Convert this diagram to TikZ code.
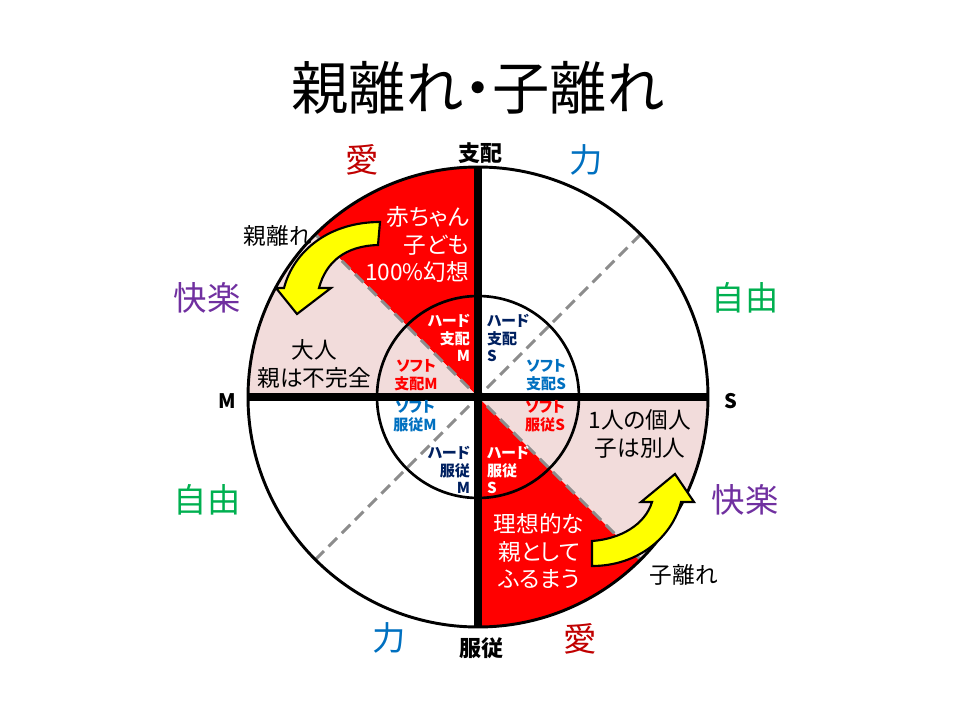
\documentclass[tikz,border=0pt]{standalone}
\usepackage{fontspec}
\setmainfont{Noto Sans CJK JP}[RawFeature=+palt]
\definecolor{redc}{HTML}{FF0000}
\definecolor{pinkc}{HTML}{F2DCDB}
\definecolor{navyc}{HTML}{002060}
\definecolor{bluec}{HTML}{0070C0}
\definecolor{darkredc}{HTML}{C00000}
\definecolor{purplec}{HTML}{7030A0}
\definecolor{greenc}{HTML}{00B050}
\definecolor{dashgray}{HTML}{8C8C8C}
\definecolor{yellowc}{HTML}{FFFF00}
\begin{document}
\begin{tikzpicture}[x=0.75pt,y=-0.75pt,
  every node/.style={inner sep=0pt, outer sep=0pt},
  ttl/.style={font=\fontsize{43}{50}\selectfont},
  bigtxt/.style={font=\fontsize{17}{20.6}\selectfont},
  smalltxt/.style={font=\fontsize{11.3}{13.2}\selectfont\bfseries},
  corner/.style={font=\fontsize{25}{30}\selectfont},
  axislbl/.style={font=\fontsize{16.5}{18}\selectfont\bfseries},
  mslbl/.style={font=\fontsize{15}{18}\selectfont\bfseries},
  sidelbl/.style={font=\fontsize{17}{20}\selectfont},
  thickline/.style={line width=5.5pt},
  diag/.style={draw=dashgray, line width=2.2pt, dash pattern=on 9pt off 5pt},
  yarrow/.style={fill=yellowc, draw=black, line width=1.6pt, line join=miter}
]
\useasboundingbox (0,0) rectangle (960,720);
% key points
\coordinate (C) at (478,397);
\coordinate (T) at (478,167);
\coordinate (B) at (478,627);
\coordinate (L) at (248,397);
\coordinate (R) at (708,397);
\coordinate (UL) at (315.4,234.4);
\coordinate (LR) at (640.6,559.6);
\coordinate (LL) at (315.4,559.6);
\coordinate (UR) at (640.6,234.4);
% sectors
\fill[redc] (C) -- (T) arc[start angle=-90, end angle=-135, radius=230] -- cycle;
\fill[pinkc] (C) -- (UL) arc[start angle=-135, end angle=-180, radius=230] -- cycle;
\fill[redc] (C) -- (B) arc[start angle=90, end angle=45, radius=230] -- cycle;
\fill[pinkc] (C) -- (LR) arc[start angle=45, end angle=0, radius=230] -- cycle;
% diagonals
\draw[diag] (LL) -- (UR);
\draw[diag] (UL) -- (LR);
% circles
\draw[line width=2pt] (C) circle[radius=101];
\draw[line width=2.2pt] (C) circle[radius=230];
% axes
\draw[thickline] (T) -- (B);
\draw[thickline] (L) -- (R);
% arrows
\draw[yarrow] (380,222) .. controls (330,222) and (294,250) .. (284,288)
  -- (276,288) -- (297,314) -- (331,288) -- (319,288)
  .. controls (326,262) and (345,246) .. (378,245) -- cycle;
\draw[yarrow] (592,541) .. controls (620,539) and (645,525) .. (652,502)
  -- (641,502) -- (675,474) -- (694,502) -- (681,502)
  .. controls (673,535) and (640,566) .. (592,566) -- cycle;
% title
\node[ttl] (title) at (478,88) {親離れ・子離れ};
% axis labels
\node[axislbl] (top) at (480,153) {支配};
\node[axislbl] (bottom) at (481,648) {服従};
\node[mslbl] (mlbl) at (227,401) {M};
\node[mslbl] (slbl) at (731,401) {S};
% corner labels
\node[corner, text=darkredc] (ai1) at (362,160) {愛};
\node[corner, text=bluec] (chikara1) at (586,160) {力};
\node[corner, text=purplec] (kairaku1) at (207,298) {快楽};
\node[corner, text=greenc] (jiyu1) at (745,298) {自由};
\node[corner, text=greenc] (jiyu2) at (207,500) {自由};
\node[corner, text=purplec] (kairaku2) at (745,500) {快楽};
\node[corner, text=bluec] (chikara2) at (389,638) {力};
\node[corner, text=darkredc] (ai2) at (580,639) {愛};
% side labels
\node[sidelbl] (oyabanare) at (278,236) {親離れ};
\node[sidelbl] (kobanare) at (684,575) {子離れ};
% big texts
\node[bigtxt, text=white, align=right, anchor=east] (baby) at (469,244.5) {赤ちゃん\\子ども\\100\%幻想};
\node[bigtxt, align=center] (otona) at (314,364) {大人\\親は不完全};
\node[bigtxt, align=center] (kojin) at (640,434) {1人の個人\\子は別人};
\node[bigtxt, text=white, align=center] (risou) at (539,551) {理想的な\\親として\\ふるまう};
% inner texts
\node[smalltxt, text=white, align=right, anchor=east] (hsm) at (470,338) {ハード\\支配\\M};
\node[smalltxt, text=navyc, align=left, anchor=west] (hss) at (487,338) {ハード\\支配\\S};
\node[smalltxt, text=redc, align=center] (ssm) at (416,375) {ソフト\\支配M};
\node[smalltxt, text=bluec, align=center] (sss) at (546,375) {ソフト\\支配S};
\node[smalltxt, text=bluec, align=center] (sfm) at (415,416) {ソフト\\服従M};
\node[smalltxt, text=redc, align=center] (sfs) at (545,416) {ソフト\\服従S};
\node[smalltxt, text=navyc, align=right, anchor=east] (hfm) at (470,470) {ハード\\服従\\M};
\node[smalltxt, text=white, align=left, anchor=west] (hfs) at (487,470) {ハード\\服従\\S};
\end{tikzpicture}
\end{document}
